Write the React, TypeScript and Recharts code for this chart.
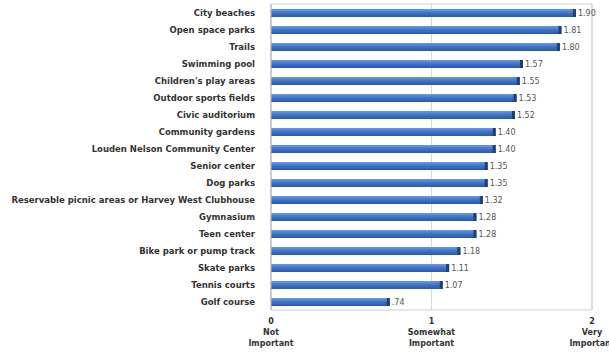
import React from "react";
import { BarChart, Bar, XAxis, YAxis, CartesianGrid, LabelList, ReferenceArea } from "recharts";

const categories = [
  "City beaches",
  "Open space parks",
  "Trails",
  "Swimming pool",
  "Children's play areas",
  "Outdoor sports fields",
  "Civic auditorium",
  "Community gardens",
  "Louden Nelson Community Center",
  "Senior center",
  "Dog parks",
  "Reservable picnic areas or Harvey West Clubhouse",
  "Gymnasium",
  "Teen center",
  "Bike park or pump track",
  "Skate parks",
  "Tennis courts",
  "Golf course",
];
const values = [1.9, 1.81, 1.8, 1.57, 1.55, 1.53, 1.52, 1.4, 1.4, 1.35, 1.35, 1.32, 1.28, 1.28, 1.18, 1.11, 1.07, 0.74];
const xTicks = [0, 1, 2];
const xTickLines: string[][] = [["Not", "Important"], ["Somewhat", "Important"], ["Very", "Important"]];

const data = categories.map((c, i) => ({ name: c, value: values[i] }));

const FONT = "'DejaVu Sans', Verdana, sans-serif";

const XTick = (props: any) => {
  const { x, y, payload } = props;
  const idx = xTicks.indexOf(payload.value);
  const lines = [String(payload.value), ...(xTickLines[idx] || [])];
  return (
    <g>
      {lines.map((l, i) => (
        <text key={i} x={x} y={y + 6 + i * 11} textAnchor="middle" fontSize={8} fontWeight="bold" fill="#333" fontFamily={FONT}>
          {l}
        </text>
      ))}
    </g>
  );
};

const YTick = (props: any) => {
  const { x, y, payload } = props;
  return (
    <text x={x - 8} y={y} dy={3} textAnchor="end" fontSize={8.5} fontWeight="bold" fill="#333" fontFamily={FONT}>
      {payload.value}
    </text>
  );
};

const BarShape = (props: any) => {
  const { x, y, width, height } = props;
  return (
    <g>
      <rect x={x} y={y} width={width} height={height} fill="url(#barGrad)" />
      <rect x={x + width - 3} y={y} width={3} height={height} fill="#1f3f7a" />
    </g>
  );
};

export default function App() {
  return (
    <div style={{ position: "absolute", left: 0, top: 0, width: 609, height: 354, background: "#fff" }}>
      <BarChart
        width={609}
        height={354}
        data={data}
        layout="vertical"
        margin={{ top: 4, right: 17, left: 0, bottom: 0 }}
        barCategoryGap={4}
      >
        <defs>
          <linearGradient id="barGrad" x1="0" y1="0" x2="0" y2="1">
            <stop offset="0%" stopColor="#6a9ae0" />
            <stop offset="50%" stopColor="#3d72c8" />
            <stop offset="100%" stopColor="#2a58a8" />
          </linearGradient>
        </defs>
        <CartesianGrid horizontal={false} vertical={true} stroke="#d8d8d8" />
        <ReferenceArea x1={0} x2={2} fill="none" stroke="#cfcfcf" ifOverflow="visible" />
        <XAxis
          type="number"
          domain={[0, 2]}
          ticks={xTicks}
          tick={<XTick />}
          axisLine={false}
          tickLine={false}
          height={44}
          interval={0}
        />
        <YAxis
          type="category"
          dataKey="name"
          width={271}
          tick={<YTick />}
          tickLine={false}
          axisLine={{ stroke: "#bbb" }}
          interval={0}
        />
        <Bar dataKey="value" barSize={8} shape={<BarShape />} isAnimationActive={false}>
          <LabelList
            dataKey="value"
            position="right"
            offset={2}
            fontSize={8}
            fill="#555"
            fontFamily={FONT}
            formatter={(v: any) => (v < 1 ? "." + Math.round(v * 100) : Number(v).toFixed(2))}
          />
        </Bar>
      </BarChart>
    </div>
  );
}
